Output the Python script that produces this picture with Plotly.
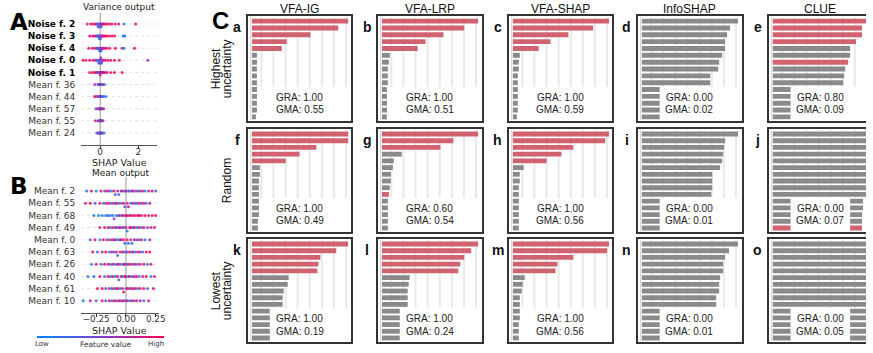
import numpy as np
import plotly.graph_objects as go

W, H = 873, 353

# ---------------- Panel A (Variance output) ----------------
a_labels = ["Noise f. 2", "Noise f. 3", "Noise f. 4", "Noise f. 0", "Noise f. 1",
            "Mean f. 36", "Mean f. 44", "Mean f. 57", "Mean f. 55", "Mean f. 24"]
a_bold = [1, 1, 1, 1, 1, 0, 0, 0, 0, 0]
a_shap = [
    [-0.68, -0.5, -0.36, -0.26, -0.2, -0.15, -0.11, -0.08, -0.05, -0.03, -0.01, 0.01, 0.03, 0.05, 0.08, 0.11, 0.15, 0.2, 0.28, 0.38, 0.5, 0.62, 0.8, 0.98, 1.25, 1.86],
    [-0.55, -0.4, -0.3, -0.22, -0.17, -0.13, -0.1, -0.07, -0.05, -0.03, -0.01, 0.01, 0.03, 0.06, 0.09, 0.13, 0.18, 0.25, 0.35, 0.48, 0.62, 0.75, 1.2, 1.3],
    [-0.6, -0.42, -0.3, -0.2, -0.14, -0.1, -0.07, -0.05, -0.03, -0.01, 0.01, 0.03, 0.05, 0.08, 0.12, 0.17, 0.24, 0.35, 0.5, 0.8, 1.15, 1.25, 1.8],
    [-0.9, -0.75, -0.55, -0.38, -0.25, -0.17, -0.12, -0.08, -0.05, -0.03, -0.01, 0.01, 0.03, 0.05, 0.08, 0.12, 0.18, 0.26, 0.4, 0.55, 0.75, 1.0, 2.5],
    [-0.55, -0.4, -0.28, -0.2, -0.14, -0.1, -0.07, -0.04, -0.02, 0, 0.02, 0.04, 0.06, 0.09, 0.13, 0.18, 0.25, 0.35, 0.55, 0.75, 1.15],
    [-0.28, -0.12, -0.07, -0.04, -0.02, 0, 0.01, 0.03, 0.05, 0.08, 0.13, 0.22],
    [-0.3, -0.2, -0.1, -0.06, -0.03, -0.01, 0.01, 0.03, 0.06, 0.1, 0.18, 0.3],
    [-0.22, -0.12, -0.07, -0.04, -0.02, 0, 0.02, 0.04, 0.07, 0.11, 0.18],
    [-0.25, -0.1, -0.06, -0.03, -0.01, 0.01, 0.03, 0.05, 0.09, 0.15],
    [-0.18, -0.1, -0.05, -0.02, 0, 0.02, 0.04, 0.07, 0.12, 0.2],
]
a_feat = [
    [8, 9, 10, 7, 9, 3, 5, 2, 4, 6, 3, 1, 5, 2, 8, 4, 9, 10, 9, 8, 10, 9, 10, 9, 1, 10],
    [9, 10, 8, 9, 6, 3, 2, 4, 1, 5, 3, 2, 6, 4, 7, 9, 8, 10, 9, 10, 9, 10, 2, 1],
    [10, 9, 8, 7, 4, 2, 5, 3, 1, 4, 2, 6, 3, 5, 8, 9, 7, 10, 9, 10, 9, 1, 10],
    [10, 9, 10, 8, 9, 4, 2, 5, 3, 1, 4, 2, 6, 3, 5, 7, 9, 8, 10, 9, 10, 9, 6],
    [9, 10, 8, 9, 7, 5, 3, 6, 2, 8, 4, 9, 3, 7, 10, 9, 8, 10, 9, 10, 9],
    [6, 3, 8, 1, 5, 9, 2, 7, 4, 1, 8, 2],
    [9, 7, 2, 8, 4, 6, 1, 9, 3, 5, 2, 1],
    [5, 8, 2, 9, 4, 7, 1, 6, 3, 9, 8],
    [8, 4, 9, 2, 6, 1, 7, 3, 10, 5],
    [3, 7, 1, 9, 5, 2, 8, 4, 6, 1],
]
a_ticks = [0, 2]

# ---------------- Panel B (Mean output) ----------------
b_labels = ["Mean f. 2", "Mean f. 55", "Mean f. 68", "Mean f. 49", "Mean f. 0",
            "Mean f. 63", "Mean f. 26", "Mean f. 40", "Mean f. 61", "Mean f. 10"]
b_shap = [
    [-0.33, -0.29, -0.25, -0.21, -0.18, -0.16, -0.14, -0.12, -0.1, -0.09, -0.07, -0.06, -0.04, -0.03, -0.01, 0, 0.02, 0.03, 0.05, 0.06, 0.08, 0.1, 0.12, 0.14, 0.16, 0.19, 0.22, 0.25],
    [-0.34, -0.3, -0.26, -0.22, -0.19, -0.17, -0.15, -0.13, -0.11, -0.09, -0.08, -0.06, -0.04, -0.02, -0.01, 0.01, 0.02, 0.04, 0.06, 0.08, 0.09, 0.11, 0.13, 0.15, 0.17, 0.2],
    [-0.27, -0.23, -0.2, -0.17, -0.15, -0.13, -0.11, -0.1, -0.08, -0.06, -0.05, -0.03, -0.02, 0, 0.01, 0.03, 0.04, 0.06, 0.08, 0.1, 0.11, 0.13, 0.16, 0.19, 0.22, 0.25],
    [-0.22, -0.18, -0.15, -0.13, -0.11, -0.09, -0.08, -0.06, -0.05, -0.03, -0.02, 0, 0.01, 0.03, 0.04, 0.06, 0.07, 0.09, 0.11, 0.13, 0.15, 0.18, 0.21, 0.24],
    [-0.3, -0.26, -0.22, -0.19, -0.16, -0.14, -0.12, -0.1, -0.09, -0.07, -0.05, -0.04, -0.02, -0.01, 0.01, 0.02, 0.04, 0.05, 0.07, 0.09, 0.11, 0.13, 0.16, 0.2],
    [-0.28, -0.24, -0.2, -0.17, -0.14, -0.12, -0.1, -0.08, -0.07, -0.05, -0.03, -0.02, 0, 0.01, 0.03, 0.05, 0.06, 0.08, 0.1, 0.12, 0.14, 0.17, 0.2],
    [-0.29, -0.25, -0.21, -0.18, -0.15, -0.13, -0.11, -0.09, -0.07, -0.06, -0.04, -0.02, -0.01, 0.01, 0.02, 0.04, 0.06, 0.08, 0.1, 0.12, 0.15, 0.18, 0.21],
    [-0.32, -0.27, -0.22, -0.18, -0.15, -0.13, -0.11, -0.09, -0.07, -0.06, -0.04, -0.03, -0.01, 0, 0.02, 0.03, 0.05, 0.07, 0.09, 0.11, 0.14, 0.17, 0.21, 0.24],
    [-0.24, -0.2, -0.17, -0.14, -0.12, -0.1, -0.08, -0.07, -0.05, -0.03, -0.02, 0, 0.01, 0.03, 0.04, 0.06, 0.08, 0.1, 0.12, 0.15, 0.18, 0.23],
    [-0.36, -0.3, -0.25, -0.2, -0.17, -0.14, -0.12, -0.1, -0.08, -0.06, -0.05, -0.03, -0.02, 0, 0.01, 0.03, 0.05, 0.07, 0.09, 0.12, 0.15, 0.19],
]
b_feat = [
    [2, 9, 1, 8, 3, 10, 6, 1, 9, 4, 7, 2, 10, 5, 8, 3, 9, 1, 6, 10, 2, 8, 4, 9, 1, 7, 10, 3],
    [8, 10, 3, 9, 1, 7, 10, 4, 8, 2, 9, 6, 1, 10, 3, 7, 9, 2, 8, 5, 1, 10, 6, 9, 2, 8],
    [1, 0, 2, 1, 3, 0, 2, 5, 1, 8, 2, 9, 6, 10, 8, 9, 7, 10, 9, 8, 10, 9, 10, 8, 9, 10],
    [9, 8, 10, 2, 9, 1, 8, 3, 10, 6, 2, 9, 1, 7, 10, 3, 8, 2, 9, 1, 10, 4, 9, 8],
    [3, 9, 1, 10, 8, 2, 9, 10, 4, 1, 8, 6, 10, 2, 9, 3, 7, 1, 10, 5, 2, 9, 1, 8],
    [9, 2, 8, 10, 1, 9, 3, 8, 2, 10, 6, 1, 9, 4, 10, 2, 8, 1, 9, 7, 3, 10, 9],
    [1, 9, 2, 10, 8, 3, 9, 1, 10, 5, 2, 8, 9, 1, 7, 10, 3, 9, 2, 8, 10, 1, 9],
    [2, 1, 9, 3, 10, 2, 8, 1, 9, 4, 10, 2, 7, 9, 1, 8, 3, 10, 9, 2, 8, 10, 1, 9],
    [9, 10, 2, 8, 1, 9, 3, 10, 2, 8, 9, 1, 10, 9, 4, 10, 8, 2, 9, 10, 1, 9],
    [1, 8, 2, 9, 3, 10, 1, 8, 9, 2, 10, 4, 9, 1, 8, 3, 10, 2, 9, 8, 1, 9],
]
b_ticks = [-0.25, 0.0, 0.25]
b_ticktext = ["\u22120.25", "0.00", "0.25"]

# ---------------- Panel C (feature attribution bars) ----------------
methods = ["VFA-IG", "VFA-LRP", "VFA-SHAP", "InfoSHAP", "CLUE"]
row_names = [["Highest", "uncertainty"], ["Random"], ["Lowest", "uncertainty"]]
letters = [["a", "b", "c", "d", "e"], ["f", "g", "h", "i", "j"], ["k", "l", "m", "n", "o"]]

vals_a = [97, 87, 59, 35, 30, 5, 5, 5, 5, 5, 5, 5, 5, 5, 4]
vals_b = [97, 83, 62, 44, 36, 8, 7, 6, 6, 6, 5, 5, 5, 5, 5]
vals_c = [97, 81, 56, 38, 26, 7, 6, 6, 5, 5, 5, 5, 5, 5, 4]
vals_d = [97, 89, 86, 84, 84, 81, 78, 77, 69, 69, 66, 64, 62, 60, 58]
vals_e = [97, 90, 90, 84, 78, 78, 76, 73, 72, 71, 68, 66, 64, 62, 60]
vals_f = [97, 97, 65, 48, 34, 8, 8, 7, 7, 7, 7, 7, 7, 6, 6]
vals_g = [97, 72, 59, 20, 12, 11, 9, 9, 8, 7, 6, 6, 6, 6, 6]
vals_h = [97, 93, 61, 49, 34, 11, 7, 7, 6, 6, 6, 6, 6, 6, 6]
vals_i = [97, 84, 83, 82, 81, 79, 71, 71, 71, 70, 68, 66, 64, 62, 60]
vals_j = [98, 98, 98, 98, 98, 98, 98, 98, 98, 98, 91, 91, 90, 90, 90]
vals_k = [97, 85, 69, 67, 66, 37, 36, 32, 31, 31, 26, 25, 24, 23, 22]
vals_l = [97, 90, 83, 79, 77, 28, 27, 26, 26, 26, 24, 23, 23, 22, 22]
vals_m = [97, 95, 61, 45, 43, 12, 10, 9, 7, 7, 7, 7, 6, 6, 6]
vals_n = [97, 88, 84, 82, 82, 79, 78, 78, 75, 75, 72, 70, 68, 66, 64]
vals_o = [98, 98, 98, 98, 98, 98, 98, 98, 98, 98, 96, 96, 96, 96, 96]

noise_a = [1, 1, 1, 1, 1, 0, 0, 0, 0, 0, 0, 0, 0, 0, 0]
noise_b = [1, 1, 1, 1, 1, 0, 0, 0, 0, 0, 0, 0, 0, 0, 0]
noise_c = [1, 1, 1, 1, 1, 0, 0, 0, 0, 0, 0, 0, 0, 0, 0]
noise_d = [0, 0, 0, 0, 0, 0, 0, 0, 0, 0, 0, 0, 0, 0, 0]
noise_e = [1, 1, 1, 1, 0, 0, 1, 0, 0, 0, 0, 0, 0, 0, 0]
noise_f = [1, 1, 1, 1, 1, 0, 0, 0, 0, 0, 0, 0, 0, 0, 0]
noise_g = [1, 1, 1, 0, 0, 0, 0, 0, 0, 1, 0, 0, 0, 0, 0]
noise_h = [1, 1, 1, 1, 1, 0, 0, 0, 0, 0, 0, 0, 0, 0, 0]
noise_i = [0, 0, 0, 0, 0, 0, 0, 0, 0, 0, 0, 0, 0, 0, 0]
noise_j = [0, 0, 0, 0, 0, 0, 0, 0, 0, 0, 0, 0, 0, 0, 1]
noise_k = [1, 1, 1, 1, 1, 0, 0, 0, 0, 0, 0, 0, 0, 0, 0]
noise_l = [1, 1, 1, 1, 1, 0, 0, 0, 0, 0, 0, 0, 0, 0, 0]
noise_m = [1, 1, 1, 1, 1, 0, 0, 0, 0, 0, 0, 0, 0, 0, 0]
noise_n = [0, 0, 0, 0, 0, 0, 0, 0, 0, 0, 0, 0, 0, 0, 0]
noise_o = [0, 0, 0, 0, 0, 0, 0, 0, 0, 0, 0, 0, 0, 0, 0]

gra = [[1.00, 1.00, 1.00, 0.00, 0.80], [1.00, 0.60, 1.00, 0.00, 0.00], [1.00, 1.00, 1.00, 0.00, 0.00]]
gma = [[0.55, 0.51, 0.59, 0.02, 0.09], [0.49, 0.54, 0.56, 0.01, 0.07], [0.19, 0.24, 0.56, 0.01, 0.05]]

panel_vals = [[vals_a, vals_b, vals_c, vals_d, vals_e],
              [vals_f, vals_g, vals_h, vals_i, vals_j],
              [vals_k, vals_l, vals_m, vals_n, vals_o]]
panel_noise = [[noise_a, noise_b, noise_c, noise_d, noise_e],
               [noise_f, noise_g, noise_h, noise_i, noise_j],
               [noise_k, noise_l, noise_m, noise_n, noise_o]]

# ---------------- styling / layout constants ----------------
RED = "#d0636f"
GREY = "#8a8a8a"
SHAP_CS = [[0, "#008afb"], [0.5, "#7c3fd3"], [1, "#ff0052"]]
DEJAVU = "DejaVu Sans"
ARIAL = "Liberation Sans, Arial, sans-serif"

col_left = [250, 381, 513, 643, 775]
col_right = [354, 486, 617, 748, 873]
row_top = [16, 129, 239]
row_bot = [121, 232, 342]
grid_x = [9.5 + 12.2 * k for k in range(8)]


def px(xp):
    return xp / W


def py(yp):
    return 1 - yp / H


def note(text, x, y, font, angle=0):
    return dict(text=text, x=px(x), y=py(y), xref="paper", yref="paper",
                xanchor="center", yanchor="middle", showarrow=False,
                textangle=angle, font=font)


def swarm(vals, nbins, spread):
    v = np.asarray(vals, float)
    q = np.round(nbins * (v - v.min()) / (v.max() - v.min() + 1e-8))
    order = np.argsort(q, kind="stable")
    ys = np.zeros(len(v))
    layer, last = 0, -1
    for i in order:
        if q[i] != last:
            layer = 0
        ys[i] = np.ceil(layer / 2) * ((layer % 2) * 2 - 1)
        layer += 1
        last = q[i]
    m = np.max(np.abs(ys))
    if m > 0:
        ys = ys * spread / max(m, 1.0)
    return ys


fig = go.Figure()
shapes = []
annotations = []


def add_swarm(shap_rows, feat_rows, xa, ya, nbins, spread, showscale=False):
    xs, ys, cs = [], [], []
    for i, (s, f) in enumerate(zip(shap_rows, feat_rows)):
        off = swarm(s, nbins, spread)
        xs += list(s)
        ys += list(i + off)
        cs += list(f)
    marker = dict(size=3, color=cs, colorscale=SHAP_CS, cmin=0, cmax=10,
                  opacity=0.85, line=dict(width=0), showscale=showscale)
    if showscale:
        marker["colorbar"] = dict(orientation="h", x=px(101), xanchor="center",
                                  y=py(337), yanchor="middle", len=127, lenmode="pixels",
                                  thickness=2, thicknessmode="pixels", outlinewidth=0,
                                  showticklabels=False, ticks="", xpad=0, ypad=0,
                                  bgcolor="rgba(0,0,0,0)")
    fig.add_trace(go.Scatter(x=xs, y=ys, mode="markers", xaxis=xa, yaxis=ya,
                             marker=marker, hoverinfo="skip"))
    n = len(shap_rows)
    axn = xa[1:]
    yref = "y" + axn
    xref = "x" + axn
    shapes.append(dict(type="line", xref=xref, yref=yref + " domain", x0=0, x1=0, y0=0, y1=1,
                       line=dict(color="#999999", width=1), layer="below"))
    for i in range(n):
        shapes.append(dict(type="line", xref=xref + " domain", yref=yref, x0=0, x1=1, y0=i, y1=i,
                           line=dict(color="#cccccc", width=0.6, dash="dot"), layer="below"))


add_swarm(a_shap, a_feat, "x", "y", 60, 0.22)
add_swarm(b_shap, b_feat, "x2", "y2", 35, 0.28, showscale=True)


def label_text(lbl, bold):
    if bold:
        return "<b>" + lbl + "</b>"
    return '<span style="color:#333333">' + lbl + "</span>"


layout = dict(
    width=W, height=H, margin=dict(l=0, r=0, t=0, b=0),
    plot_bgcolor="white", paper_bgcolor="white", showlegend=False,
    xaxis=dict(domain=[px(82), px(158)], range=[-0.99, 2.97], anchor="y",
               tickvals=a_ticks, ticktext=[str(t) for t in a_ticks], ticks="outside",
               ticklen=3, tickcolor="#333", showline=True, linecolor="#555", linewidth=1,
               ticklabelstandoff=-5,
               showgrid=False, zeroline=False, tickfont=dict(family=DEJAVU, size=9, color="#333")),
    yaxis=dict(domain=[py(145), py(13)], range=[10.0, -0.91], anchor="x",
               tickvals=list(range(10)),
               ticktext=[label_text(l, b) for l, b in zip(a_labels, a_bold)],
               ticks="", showline=False, showgrid=False, zeroline=False, ticklabelstandoff=5,
               tickfont=dict(family=DEJAVU, size=9, color="#000")),
    xaxis2=dict(domain=[px(82), px(160)], range=[-0.375, 0.275], anchor="y2",
                tickvals=b_ticks, ticktext=b_ticktext, ticks="outside",
                ticklen=3, tickcolor="#333", showline=True, linecolor="#555", linewidth=1,
                ticklabelstandoff=-6,
                showgrid=False, zeroline=False, tickfont=dict(family=DEJAVU, size=8.8, color="#333")),
    yaxis2=dict(domain=[py(313), py(177)], range=[10.0, -1.15], anchor="x2",
                tickvals=list(range(10)), ticktext=[label_text(l, 0) for l in b_labels],
                ticks="", showline=False, showgrid=False, zeroline=False, ticklabelstandoff=5,
                tickfont=dict(family=DEJAVU, size=9, color="#333")),
)

fA = dict(family=DEJAVU, size=9, color="#222")
annotations += [
    note("Variance output", 120, 7, fA),
    note("SHAP Value", 120, 162, dict(family=DEJAVU, size=9.5, color="#222")),
    note("Mean output", 122, 173, fA),
    note("SHAP Value", 120, 330, dict(family=DEJAVU, size=9.5, color="#222")),
    note("Low", 42, 344, dict(family=DEJAVU, size=7, color="#333")),
    note("Feature value", 107, 344, dict(family=DEJAVU, size=7.5, color="#333")),
    note("High", 157, 344, dict(family=DEJAVU, size=7, color="#333")),
    note("<b>A</b>", 19, 22, dict(family=DEJAVU, size=23, color="#000")),
    note("<b>B</b>", 19, 186, dict(family=DEJAVU, size=23, color="#000")),
    note("<b>C</b>", 222, 20, dict(family=ARIAL, size=24, color="#000")),
]

fRow = dict(family=ARIAL, size=12, color="#111")
fBox = dict(family=ARIAL, size=10, color="#222")
fLet = dict(family=ARIAL, size=14, color="#111")
for r in range(3):
    t, b = row_top[r], row_bot[r]
    names = row_names[r]
    if len(names) == 2:
        for nm, xc in zip(names, [217.5, 228.5]):
            annotations.append(note(nm, xc, (t + b) / 2, fRow, -90))
    else:
        annotations.append(note(names[0], 228.5, (t + b) / 2, fRow, -90))
    for c in range(5):
        k = r * 5 + c + 3
        xa, ya = "x%d" % k, "y%d" % k
        l, rr = col_left[c], col_right[c]
        vals = panel_vals[r][c]
        cols = [RED if n else GREY for n in panel_noise[r][c]]
        fig.add_trace(go.Bar(x=vals, y=list(range(len(vals))), orientation="h", width=0.72,
                             marker=dict(color=cols, line=dict(width=0)),
                             xaxis=xa, yaxis=ya, hoverinfo="skip"))
        last = (c == 4)
        layout["xaxis%d" % k] = dict(domain=[px(l), px(rr)], range=[-4, -4 + (rr - l)], anchor=ya,
                                     showgrid=False, zeroline=False, showticklabels=False, ticks="",
                                     showline=True, linecolor="#333", linewidth=2, mirror=True)
        layout["yaxis%d" % k] = dict(domain=[py(b), py(t)], range=[14.6, -0.75], anchor=xa,
                                     showgrid=False, zeroline=False, showticklabels=False, ticks="",
                                     showline=True, linecolor="#333", linewidth=2,
                                     mirror=(not last))
        for gx in grid_x:
            if gx < (rr - l) - 6:
                shapes.append(dict(type="line", xref=xa, yref="paper", x0=gx, x1=gx,
                                   y0=py(t + 1), y1=py(b - 34),
                                   line=dict(color="#e9e9e9", width=2), layer="below"))
        shapes.append(dict(type="line", xref=xa, yref="paper", x0=-1.3, x1=-1.3,
                           y0=py(t + 1), y1=py(b - 1),
                           line=dict(color="#d6d6d6", width=1), layer="below"))
        shapes.append(dict(type="rect", xref="paper", yref="paper",
                           x0=px(l + 22), x1=px(l + 82), y0=py(b - 1), y1=py(b - 34),
                           fillcolor="white", line=dict(width=0), layer="above"))
        annotations.append(note("GRA: %.2f" % gra[r][c], l + 52, b - 24, fBox))
        annotations.append(note("GMA: %.2f" % gma[r][c], l + 52, b - 11, fBox))
        annotations.append(note("<b>%s</b>" % letters[r][c], l - 11, t + 11, fLet))
        if r == 0:
            annotations.append(note(methods[c], l + 52, 9, fRow))

layout["shapes"] = shapes
layout["annotations"] = annotations
fig.update_layout(**layout)
fig.write_html("out.html", config={"displayModeBar": False},
               post_script="document.body.style.margin='0';document.body.style.overflow='hidden';")
